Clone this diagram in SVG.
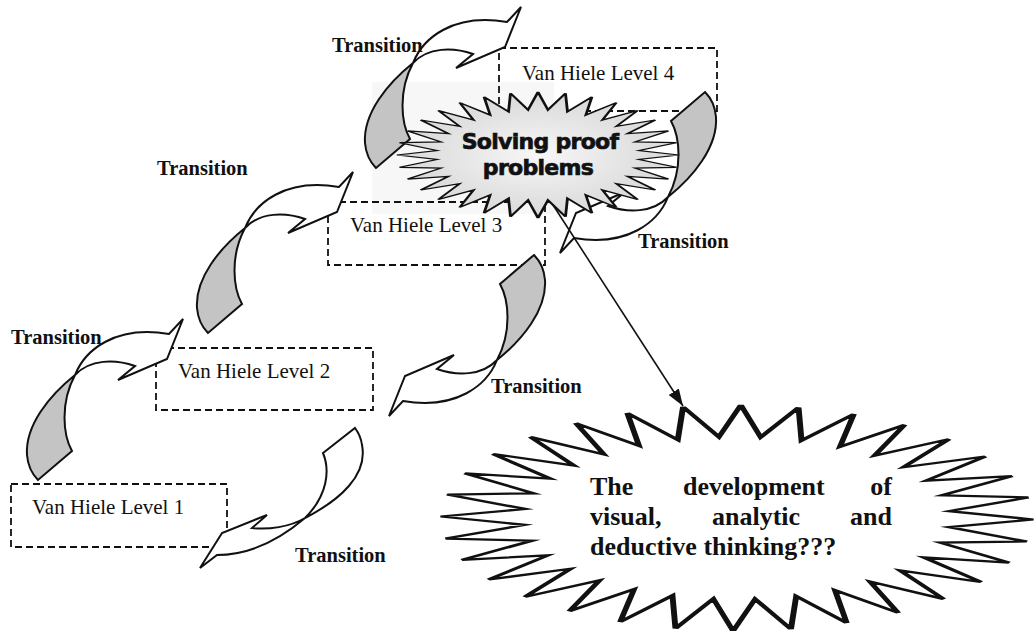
<svg xmlns="http://www.w3.org/2000/svg" width="1035" height="631" viewBox="0 0 1035 631">
  <style>
    .box { fill: none; stroke: #111; stroke-width: 1.8; stroke-dasharray: 7 4; }
    .lvl { font-family: "Liberation Serif", "Times New Roman", serif; font-size: 21px; fill: #111; }
    .tr { font-family: "Liberation Serif", "Times New Roman", serif; font-weight: bold; font-size: 20.5px; fill: #111; }
    .big { font-family: "Liberation Serif", "Times New Roman", serif; font-weight: bold; font-size: 26px; fill: #111; }
    .sp { font-family: "DejaVu Sans", "Liberation Sans", sans-serif; font-weight: bold; font-size: 22px; letter-spacing: -0.7px; fill: #111; stroke: #111; stroke-width: 0.7; text-anchor: middle; }
    .body { fill: #fff; stroke: #111; stroke-width: 2; stroke-linejoin: miter; }
    .back { fill: #c4c4c4; stroke: #111; stroke-width: 2; stroke-linejoin: miter; }
    .star { stroke: #111; stroke-width: 2; vector-effect: non-scaling-stroke; }
    .link { stroke: #111; stroke-width: 1.6; fill: none; }
    .scan { fill: #f7f7f7; }
  </style>
  <defs>
    <radialGradient id="haze" cx="0.5" cy="0.5" r="0.5">
      <stop offset="0" stop-color="#f7f7f7"/>
      <stop offset="1" stop-color="#d8d8d8"/>
    </radialGradient>
    <marker id="tip" markerUnits="userSpaceOnUse" markerWidth="18" markerHeight="14" refX="17" refY="6" orient="auto">
      <path d="M0,0 L17,6 L0,12 Z" fill="#111"/>
    </marker>
    <!-- curved ribbon arrow, twist point at the origin, head to the upper right -->
    <path id="ribbon-tail" d="M0,0 C-25,20 -50,50 -48,80 C-47,92 -42,100 -37,105 L-3,76 C-12,60 -15,28 0,0 Z"/>
    <path id="ribbon-head" d="M0,0 C10,-25 40,-50 94,-41 L108,-56 L92,-16 L43,5 L60,-9 C40,-16 15,-16 0,0 Z"/>
    <!-- 32-point star, outer radius 100, inner radius 72 -->
    <polygon id="star32" points="0,-100 7.06,-71.65 19.51,-98.08 20.9,-68.9 38.27,-92.39 33.94,-63.5 55.56,-83.15 45.68,-55.66 70.71,-70.71 55.66,-45.68 83.15,-55.56 63.5,-33.94 92.39,-38.27 68.9,-20.9 98.08,-19.51 71.65,-7.06 100,0 71.65,7.06 98.08,19.51 68.9,20.9 92.39,38.27 63.5,33.94 83.15,55.56 55.66,45.68 70.71,70.71 45.68,55.66 55.56,83.15 33.94,63.5 38.27,92.39 20.9,68.9 19.51,98.08 7.06,71.65 0,100 -7.06,71.65 -19.51,98.08 -20.9,68.9 -38.27,92.39 -33.94,63.5 -55.56,83.15 -45.68,55.66 -70.71,70.71 -55.66,45.68 -83.15,55.56 -63.5,33.94 -92.39,38.27 -68.9,20.9 -98.08,19.51 -71.65,7.06 -100,0 -71.65,-7.06 -98.08,-19.51 -68.9,-20.9 -92.39,-38.27 -63.5,-33.94 -83.15,-55.56 -55.66,-45.68 -70.71,-70.71 -45.68,-55.66 -55.56,-83.15 -33.94,-63.5 -38.27,-92.39 -20.9,-68.9 -19.51,-98.08 -7.06,-71.65"/>
  </defs>

  <rect width="1035" height="631" fill="#fff"/>
  <!-- faint grey patch of the printed page behind the central burst -->
  <rect class="scan" x="372" y="82" width="182" height="132"/>

  <!-- level boxes -->
  <g id="level-4">
    <rect class="box" x="499" y="48" width="218" height="63"/>
    <text class="lvl" x="522" y="80">Van Hiele Level 4</text>
  </g>
  <g id="level-3">
    <rect class="box" x="328" y="202" width="217" height="63"/>
    <text class="lvl" x="350" y="232">Van Hiele Level 3</text>
  </g>
  <g id="level-2">
    <rect class="box" x="156" y="348" width="217" height="62"/>
    <text class="lvl" x="178" y="378">Van Hiele Level 2</text>
  </g>
  <g id="level-1">
    <rect class="box" x="11" y="484" width="216" height="63"/>
    <text class="lvl" x="32" y="514">Van Hiele Level 1</text>
  </g>

  <!-- transition arrows between levels -->
  <g id="connectors">
    <g id="up-1-2" transform="translate(75,375)">
      <use href="#ribbon-tail" class="back"/>
      <use href="#ribbon-head" class="body"/>
    </g>
    <g id="up-2-3" transform="translate(245,228)">
      <use href="#ribbon-tail" class="back"/>
      <use href="#ribbon-head" class="body"/>
    </g>
    <g id="up-3-4" transform="translate(413,63)">
      <use href="#ribbon-tail" class="back"/>
      <use href="#ribbon-head" class="body"/>
    </g>
    <g id="down-4-3" transform="translate(668,197) rotate(180)">
      <use href="#ribbon-tail" class="back"/>
      <use href="#ribbon-head" class="body"/>
    </g>
    <g id="down-3-2" transform="translate(497,360) rotate(180)">
      <use href="#ribbon-tail" class="back"/>
      <use href="#ribbon-head" class="body"/>
    </g>
    <g id="down-2-1">
      <path class="body" d="M305,518 C340,500 368,475 362,445 C361,437 358,432 355,428 L323,453 C330,470 328,495 305,518 Z"/>
      <path class="body" d="M305,518 C285,535 255,555 217,555 L200,568 L222,533 L267,515 L252,528 C268,530 290,527 305,518 Z"/>
    </g>

    <text class="tr" x="332" y="52">Transition</text>
    <text class="tr" x="157" y="175">Transition</text>
    <text class="tr" x="11" y="344">Transition</text>
    <text class="tr" x="638" y="248">Transition</text>
    <text class="tr" x="491" y="393">Transition</text>
    <text class="tr" x="295" y="562">Transition</text>
  </g>

  <!-- central burst -->
  <g id="solving">
    <use href="#star32" class="star" fill="url(#haze)" transform="translate(538,155) scale(1.41,0.63)"/>
    <text class="sp" x="540" y="149">Solving proof</text>
    <text class="sp" x="538" y="175">problems</text>
  </g>

  <!-- link to the outcome burst -->
  <g id="link">
    <line class="link" x1="553" y1="205" x2="683" y2="406" marker-end="url(#tip)"/>
  </g>

  <!-- outcome burst -->
  <g id="development">
    <use href="#star32" class="star" fill="#fff" transform="translate(737,518) scale(2.96,1.13) rotate(-10.5)"/>
    <text class="big" x="590" y="495">The</text>
    <text class="big" x="683" y="495">development</text>
    <text class="big" x="892" y="495" text-anchor="end">of</text>
    <text class="big" x="590" y="525">visual,</text>
    <text class="big" x="712" y="525">analytic</text>
    <text class="big" x="892" y="525" text-anchor="end">and</text>
    <text class="big" x="590" y="555">deductive thinking???</text>
  </g>
</svg>
